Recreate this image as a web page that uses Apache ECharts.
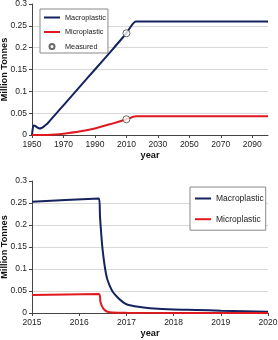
<!DOCTYPE html>
<html><head><meta charset="utf-8">
<script src="https://cdn.jsdelivr.net/npm/echarts@6/dist/echarts.min.js"></script>
<style>html,body{margin:0;padding:0;background:#fff}#c{width:278px;height:340px}</style>
</head><body><div id="c"></div>
<script>
// Top chart (1950-2100)
var topMacroYears = [1950, 1950.5, 1951, 1952, 1953, 1954, 1955, 1956, 1957, 1958, 1960, 1970, 1980, 1990, 2000, 2010, 2016, 2100];
var topMacroVals  = [0, 0.015, 0.022, 0.021, 0.018, 0.016, 0.015, 0.016, 0.018, 0.021, 0.027, 0.068, 0.109, 0.150, 0.191, 0.233, 0.26, 0.26];
var topMicroYears = [1950, 1960, 1965, 1970, 1980, 1990, 2000, 2010, 2016, 2100];
var topMicroVals  = [0, 0, 0.001, 0.003, 0.008, 0.015, 0.025, 0.036, 0.043, 0.043];
var measuredYears = [2010, 2010];
var measuredVals  = [0.233, 0.036];
var topXTicks = [1950, 1970, 1990, 2010, 2030, 2050, 2070, 2090];
// Bottom chart (2015-2020)
var botMacroYears = [2015, 2016.42, 2016.44, 2016.47, 2016.5, 2016.55, 2016.6, 2016.7, 2016.8, 2016.9, 2017, 2017.25, 2017.5, 2018, 2018.5, 2019, 2019.5, 2020];
var botMacroVals  = [0.253, 0.26, 0.22, 0.175, 0.14, 0.1, 0.075, 0.05, 0.037, 0.027, 0.02, 0.014, 0.011, 0.008, 0.007, 0.005, 0.004, 0.003];
var botMicroYears = [2015, 2016.42, 2016.45, 2016.5, 2016.55, 2016.6, 2016.7, 2017, 2020];
var botMicroVals  = [0.041, 0.043, 0.025, 0.012, 0.006, 0.003, 0.001, 0.0003, 0];

function pairs(xs, ys){ return xs.map(function(x,i){ return [x, ys[i]]; }); }

var FONT = 'Liberation Sans, Arial, sans-serif';
var MACRO = '#14235f', MICRO = '#e0191f';
var LINE_ICON = 'path://M0,0L16,0L16,2L0,2Z';
var axisLine = {show:true, lineStyle:{color:'#444', width:1}};
var axisTick = {show:true, length:3, lineStyle:{color:'#444'}};
var lbl = {color:'#222', fontSize:8.5, fontFamily:FONT};
var nameStyle = {color:'#111', fontSize:9.2, fontWeight:'bold', fontFamily:FONT};

function yAx(gi){
  return {type:'value', gridIndex:gi, min:0, max:0.3, interval:0.05,
    name:'Million Tonnes', nameLocation:'middle', nameGap:23, nameMoveOverlap:false, nameTextStyle:nameStyle,
    axisLine:axisLine, axisTick:axisTick, axisLabel:Object.assign({margin:5}, lbl),
    splitLine:{show:true, showMaxLine:false, showMinLine:false, lineStyle:{color:'#d9d9d9', width:1}}};
}

var option = {
  animation:false,
  textStyle:{fontFamily:FONT},
  grid:[
    {left:32, right:10, top:4, bottom:205, containLabel:false, outerBoundsMode:'none'},
    {left:32, right:10, top:181, bottom:27, containLabel:false, outerBoundsMode:'none'}
  ],
  xAxis:[
    {type:'value', gridIndex:0, min:1950, max:2100, interval:10,
     name:'year', nameLocation:'middle', nameGap:16, nameMoveOverlap:false, nameTextStyle:nameStyle,
     axisLine:axisLine, axisTick:Object.assign({customValues:topXTicks}, axisTick),
     axisLabel:Object.assign({margin:5, hideOverlap:false, customValues:topXTicks, formatter:function(v){ return String(v); }}, lbl),
     splitLine:{show:false}},
    {type:'value', gridIndex:1, min:2015, max:2020, interval:1,
     name:'year', nameLocation:'middle', nameGap:16, nameMoveOverlap:false, nameTextStyle:nameStyle,
     axisLine:axisLine, axisTick:axisTick,
     axisLabel:Object.assign({margin:5, hideOverlap:false, formatter:function(v){ return String(v); }}, lbl),
     splitLine:{show:false}}
  ],
  yAxis:[yAx(0), yAx(1)],
  legend:[
    {orient:'vertical', left:40, top:9,
     data:[{name:'Macroplastic', icon:LINE_ICON},{name:'Microplastic', icon:LINE_ICON},{name:'Measured', icon:'circle'}],
     itemWidth:16, itemHeight:5, itemGap:5.5, padding:[4,2,2,4],
     borderColor:'#888', borderWidth:1, backgroundColor:'#fff',
     textStyle:{fontSize:7.3, lineHeight:9, color:'#222', fontFamily:FONT}},
    {orient:'vertical', left:190, top:187,
     data:[{name:'Macroplastic', icon:LINE_ICON},{name:'Microplastic', icon:LINE_ICON}],
     itemWidth:16, itemHeight:5, itemGap:10.7, padding:[6.5,2,6,5],
     borderColor:'#888', borderWidth:1, backgroundColor:'#fff',
     textStyle:{fontSize:8.5, lineHeight:10, color:'#222', fontFamily:FONT}}
  ],
  series:[
    {name:'Macroplastic', type:'line', xAxisIndex:0, yAxisIndex:0, symbol:'none', smooth:0.2,
     lineStyle:{color:MACRO, width:2}, itemStyle:{color:MACRO}, data:pairs(topMacroYears, topMacroVals), z:2},
    {name:'Microplastic', type:'line', xAxisIndex:0, yAxisIndex:0, symbol:'none', smooth:0.2,
     lineStyle:{color:MICRO, width:2}, itemStyle:{color:MICRO}, data:pairs(topMicroYears, topMicroVals), z:2},
    {name:'Measured', type:'scatter', xAxisIndex:0, yAxisIndex:0, symbol:'circle', symbolSize:7,
     itemStyle:{color:'#fff', borderColor:'#444', borderWidth:1}, data:pairs(measuredYears, measuredVals), z:5},
    {name:'Macroplastic', type:'line', xAxisIndex:1, yAxisIndex:1, symbol:'none', smooth:0.2,
     lineStyle:{color:MACRO, width:2}, itemStyle:{color:MACRO}, data:pairs(botMacroYears, botMacroVals), z:2},
    {name:'Microplastic', type:'line', xAxisIndex:1, yAxisIndex:1, symbol:'none', smooth:0.2,
     lineStyle:{color:MICRO, width:2}, itemStyle:{color:MICRO}, data:pairs(botMicroYears, botMicroVals), z:2}
  ]
};
var chart = echarts.init(document.getElementById('c'), null, {renderer:'canvas'});
chart.setOption(option);
</script>
</body></html>
